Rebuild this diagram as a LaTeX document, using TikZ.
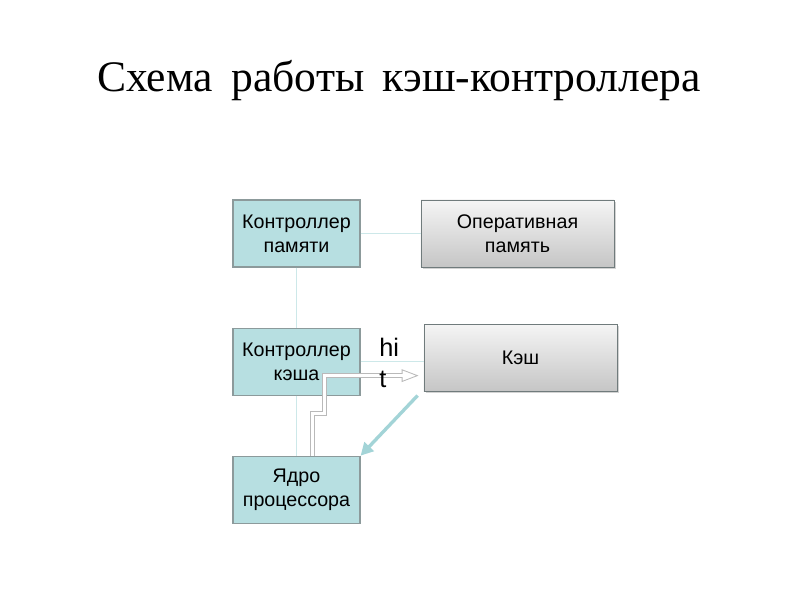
\documentclass[tikz,border=0pt]{standalone}
\usepackage{fontspec}
\setmainfont{Liberation Serif}
\setsansfont{Liberation Sans}
\newfontfamily\titlefont[WordSpace=1.7]{Liberation Serif}
\usetikzlibrary{arrows.meta, positioning, calc, shadows}
\definecolor{boxteal}{HTML}{B7DFE1}
\definecolor{boxedge}{HTML}{8C9A9B}
\definecolor{linkteal}{HTML}{CDE8E9}
\definecolor{arrowteal}{HTML}{A3D4D7}
\tikzset{
    cachediagram/.style={>=Stealth, font=\sffamily\fontsize{14}{17}\selectfont, node distance=1.5cm and 1.5cm},
    ctlbox/.style={draw=boxedge, fill=boxteal, line width=0.8pt, minimum width=3.175cm, minimum height=1.675cm, inner sep=0pt, align=center},
    membox/.style={draw=boxedge!80!black, top color=gray!8, bottom color=gray!45, line width=0.6pt, minimum width=4.825cm, minimum height=1.675cm, inner sep=0pt, align=center, drop shadow={opacity=0.35, shadow xshift=1.2pt, shadow yshift=-1.2pt}},
    link/.style={draw=linkteal, line width=0.9pt},
    % hollow arrow: gray rim, white core
    hitrim/.style={draw=gray!55, line width=3.8pt, -{Triangle[length=12pt, width=9pt, line width=0.6pt, fill=white]}},
    hitcore/.style={draw=white, line width=2.2pt, shorten >=10pt},
    missarrow/.style={draw=arrowteal, line width=2.4pt, -{Triangle[length=9pt, width=9pt]}},
}
\begin{document}
\begin{tikzpicture}[cachediagram]
    \useasboundingbox (0,0) rectangle (20,15);
    \node[anchor=base, font=\titlefont\fontsize{31}{38}\selectfont] (title) at (9.975,12.72) {Схема работы кэш-контроллера};

    \node[ctlbox] (memctl) at (7.4125,9.1625) {Контроллер\\памяти};
    \node[membox, right=of memctl]            (ram)      {Оперативная\\память};
    \node[ctlbox, below=of memctl]            (cachectl) {Контроллер\\кэша};
    \node[ctlbox, below=of cachectl]          (core)     {Ядро\\процессора};
    \node[membox, right=1.575cm of cachectl, yshift=0.1cm] (cache) {Кэш};

    % connections
    \draw[link] (memctl) -- (ram);
    \draw[link] (memctl) -- (cachectl);
    \draw[link] (cachectl) -- (core);
    \draw[link] (cachectl.east) -- (cachectl.east -| cache.west);

    % hit path
    \coordinate (hitfrom) at ([xshift=0.4cm]core.north);
    \coordinate (hitto)   at ([xshift=-0.125cm, yshift=-0.45cm]cache.west);
    \draw[hitrim]  (hitfrom) -- ++(0,1.05) -- ++(0.3,0) |- (hitto);
    \draw[hitcore] (hitfrom) -- ++(0,1.05) -- ++(0.3,0) |- (hitto);
    \node[anchor=north west, align=left, inner sep=0pt, font=\sffamily\fontsize{18}{22}\selectfont] (hit) at (9.475,6.55) {hi\\t};

    % miss path
    \draw[missarrow] ([xshift=-0.15cm, yshift=-0.1cm]cache.south west) -- (core.north east);
\end{tikzpicture}
\end{document}
